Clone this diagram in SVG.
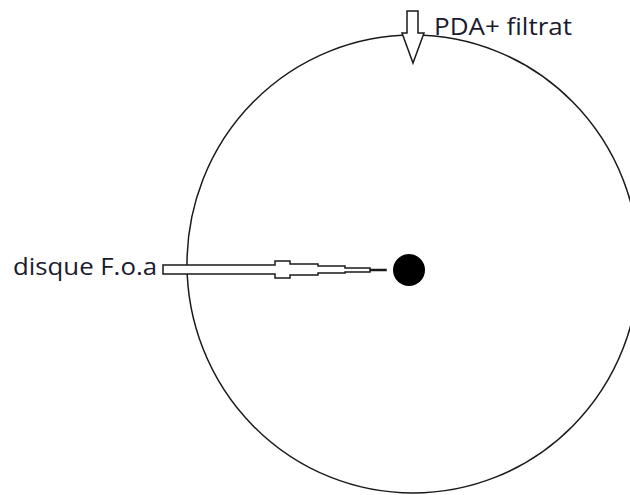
<svg xmlns="http://www.w3.org/2000/svg" width="630" height="495" viewBox="0 0 630 495">
<style>
.ln{fill:none;stroke:#1a1a1a;stroke-width:1.5}
.arr{fill:#fff;stroke:#1a1a1a;stroke-width:1.5;stroke-linejoin:miter}
.lbl{font-family:"Open Sans","Noto Sans",sans-serif;font-size:23px;fill:#1a1a2e}
</style>
<rect width="630" height="495" fill="#fff"/>
<g id="dish">
<ellipse class="ln" cx="413" cy="264" rx="226" ry="229"/>
</g>
<g id="center-disc">
<circle cx="409" cy="270" r="16" fill="#000"/>
</g>
<g id="connectors">
<path class="arr" d="M407,11 L418,11 L418,33 L424,33 L413,63 L402,33 L407,33 Z"/>
<path class="arr" d="M163,265 L275,265 L275,261 L290,261 L290,264 L318,264 L318,266 L345,266 L345,268 L370,268 L370,269.5 L386,269.5 L386,270.5 L370,270.5 L370,272 L345,272 L345,273 L318,273 L318,275 L290,275 L290,278 L275,278 L275,274 L163,274 Z"/>
</g>
<g id="label-pda">
<text class="lbl" x="434" y="34.5" textLength="138" lengthAdjust="spacingAndGlyphs">PDA+ filtrat</text>
</g>
<g id="label-disque">
<text class="lbl" x="13" y="275" textLength="144" lengthAdjust="spacingAndGlyphs">disque F.o.a</text>
</g>
</svg>
